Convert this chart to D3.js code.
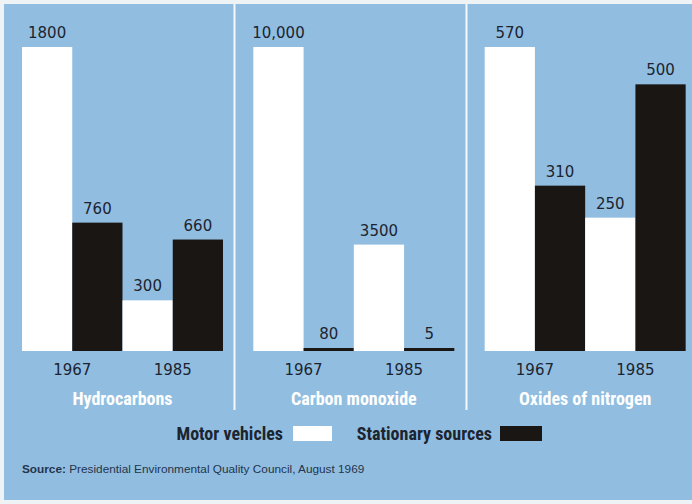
<!DOCTYPE html>
<html>
<head>
<meta charset="utf-8">
<script src="https://cdn.jsdelivr.net/npm/d3@7"></script>
<style>
  html, body { margin: 0; padding: 0; background: #eef3f6; }
  svg { display: block; }
</style>
</head>
<body>
<svg id="chart" width="692" height="504"></svg>
<script>
// Air pollutant emissions by source, 1967 vs 1985
const pollutants = ["Hydrocarbons", "Carbon monoxide", "Oxides of nitrogen"];
const years = ["1967", "1985"];
const sources = ["Motor vehicles", "Stationary sources"];

// values per pollutant, ordered [1967 motor, 1967 stationary, 1985 motor, 1985 stationary]
const hydrocarbons = [1800, 760, 300, 660];
const carbonMonoxide = [10000, 80, 3500, 5];
const oxidesOfNitrogen = [570, 310, 250, 500];
const valueLabels = [
  ["1800", "760", "300", "660"],
  ["10,000", "80", "3500", "5"],
  ["570", "310", "250", "500"]
];
const sourceNote = "Presidential Environmental Quality Council, August 1969";

const seriesByPanel = [hydrocarbons, carbonMonoxide, oxidesOfNitrogen];

const W = 692, H = 504;
const bg = "#91bee0";
const ink = "#1c2430";
const barColor = { "Motor vehicles": "#ffffff", "Stationary sources": "#1a1614" };

const svg = d3.select("#chart");

svg.append("rect")
  .attr("x", 4).attr("y", 4).attr("width", W - 4).attr("height", H - 8)
  .attr("fill", bg);

// panel layout
const panelX = d3.scaleBand().domain(pollutants).range([5, 699]).paddingInner(0);
const baseY = 351, topY = 47;
const innerPad = 17;

const numFont = "'DejaVu Sans', sans-serif";
const titleFont = "'Liberation Sans Narrow', 'Roboto Condensed', 'Liberation Sans', sans-serif";

// dividers between panels
svg.selectAll("line.divider")
  .data(pollutants.slice(1))
  .join("line")
  .attr("class", "divider")
  .attr("x1", d => Math.round(panelX(d)) - 1.5)
  .attr("x2", d => Math.round(panelX(d)) - 1.5)
  .attr("y1", 4).attr("y2", 410)
  .attr("stroke", "#f4f8fb").attr("stroke-width", 2);

pollutants.forEach((name, pi) => {
  const values = seriesByPanel[pi];
  const x0 = panelX(name) + innerPad;
  const x1 = x0 + 201;
  const g = svg.append("g");

  const yearScale = d3.scaleBand().domain(years).range([x0, x1]);
  const srcScale = d3.scaleBand().domain(sources).range([0, yearScale.bandwidth()]);
  const y = d3.scaleLinear().domain([0, d3.max(values)]).range([baseY, topY]);

  const bars = [];
  years.forEach((yr, yi) => {
    sources.forEach((src, si) => {
      const idx = yi * 2 + si;
      bars.push({ yr, src, v: values[idx], label: valueLabels[pi][idx] });
    });
  });

  // very small values keep a thin visible stroke
  const barTop = d => Math.min(y(d.v), baseY - 3);

  g.selectAll("rect.bar")
    .data(bars)
    .join("rect")
    .attr("class", "bar")
    .attr("x", d => yearScale(d.yr) + srcScale(d.src))
    .attr("width", srcScale.bandwidth())
    .attr("y", barTop)
    .attr("height", d => baseY - barTop(d))
    .attr("fill", d => barColor[d.src]);

  g.selectAll("text.val")
    .data(bars)
    .join("text")
    .attr("class", "val")
    .attr("x", d => yearScale(d.yr) + srcScale(d.src) + srcScale.bandwidth() / 2)
    .attr("y", d => barTop(d) - 9)
    .attr("text-anchor", "middle")
    .attr("font-family", numFont)
    .attr("font-size", 15)
    .attr("fill", ink)
    .text(d => d.label);

  // year axis
  const axis = d3.axisBottom(yearScale).tickSize(0).tickPadding(0);
  const ax = g.append("g").attr("transform", `translate(0,${baseY})`).call(axis);
  ax.select(".domain").remove();
  ax.selectAll("text")
    .attr("y", 24)
    .attr("dy", 0)
    .attr("font-family", numFont)
    .attr("font-size", 15)
    .attr("fill", ink);

  g.append("text")
    .attr("x", (x0 + x1) / 2)
    .attr("y", 405)
    .attr("text-anchor", "middle")
    .attr("font-family", titleFont)
    .attr("font-weight", "bold")
    .attr("font-size", 18)
    .attr("fill", "#ffffff")
    .text(name);
});

// legend
const legend = svg.append("g");
const legendItems = [
  { src: sources[0], tx: 283, sx: 293, sw: 39 },
  { src: sources[1], tx: 492, sx: 500, sw: 42 }
];
legend.selectAll("text")
  .data(legendItems)
  .join("text")
  .attr("x", d => d.tx)
  .attr("y", 440)
  .attr("text-anchor", "end")
  .attr("font-family", titleFont)
  .attr("font-weight", "bold")
  .attr("font-size", 18)
  .attr("fill", ink)
  .text(d => d.src);
legend.selectAll("rect")
  .data(legendItems)
  .join("rect")
  .attr("x", d => d.sx)
  .attr("y", 426)
  .attr("width", d => d.sw)
  .attr("height", 15)
  .attr("fill", d => barColor[d.src]);

// source note
const note = svg.append("text")
  .attr("x", 22).attr("y", 473)
  .attr("font-family", "'Liberation Sans', Arial, sans-serif")
  .attr("font-size", 11.8)
  .attr("fill", "#24344c");
note.append("tspan").attr("font-weight", "bold").text("Source: ");
note.append("tspan").text(sourceNote);
</script>
</body>
</html>
